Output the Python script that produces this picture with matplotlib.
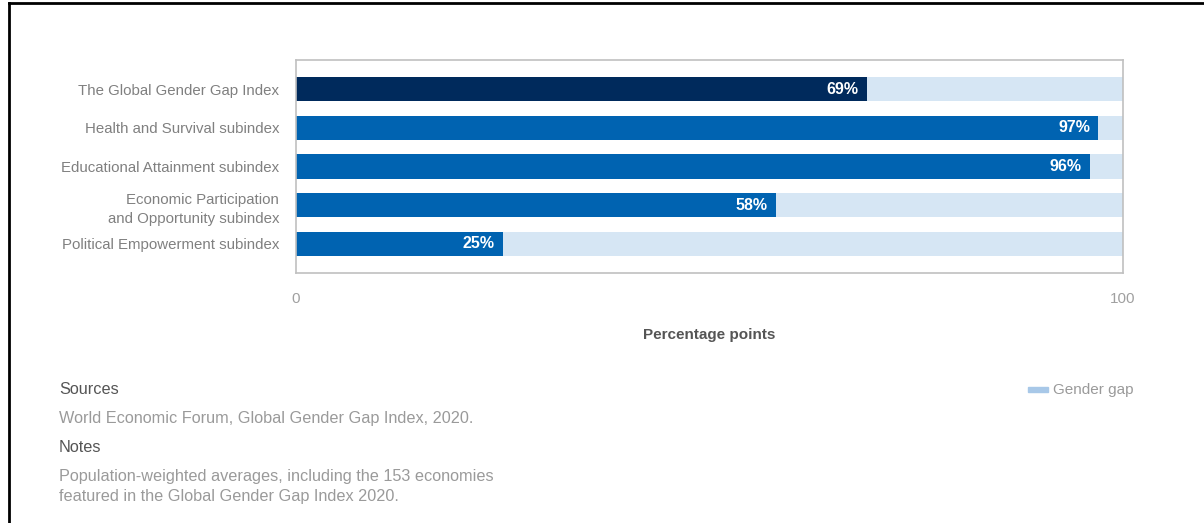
import matplotlib.pyplot as plt
from matplotlib.lines import Line2D
from matplotlib.patches import Rectangle

plt.rcParams['font.family'] = ['Liberation Sans', 'DejaVu Sans']

categories = ['The Global Gender Gap Index', 'Health and Survival subindex',
              'Educational Attainment subindex',
              'Economic Participation\nand Opportunity subindex',
              'Political Empowerment subindex']
scores = [69, 97, 96, 58, 25]
bar_colors = ['#002a5c', '#0063b1', '#0063b1', '#0063b1', '#0063b1']
total = 100

W, H = 1204, 523
fig = plt.figure(figsize=(W / 100, H / 100), dpi=100)
ax = fig.add_axes([296 / W, 1 - 273 / H, (1123 - 296) / W, (273 - 60) / H])

ypos = list(range(len(categories)))
ax.barh(ypos, [total] * len(scores), height=0.62, color='#d6e6f4')
ax.barh(ypos, scores, height=0.62, color=bar_colors)
for y, v in zip(ypos, scores):
    ax.text(v - 1.0, y, f'{v}%', ha='right', va='center', color='white',
            fontsize=11.5, fontweight='bold')

ax.set_xlim(0, 100)
ax.set_ylim(4.75, -0.75)
ax.set_yticks(ypos)
ax.set_yticklabels(categories, fontsize=10.8, color='#808080', linespacing=1.45)
ax.set_xticks([0, 100])
ax.set_xticklabels(['0', '100'], fontsize=11, color='#a0a0a0')
ax.tick_params(length=0)
ax.tick_params(axis='y', pad=12)
ax.tick_params(axis='x', pad=14)
for s in ax.spines.values():
    s.set_color('#c0c0c0')
    s.set_linewidth(1.2)

fig.text(709 / W, 1 - 335 / H, 'Percentage points', ha='center', va='center',
         fontsize=11, fontweight='bold', color='#555555')

# footnotes
fig.text(59 / W, 1 - 390 / H, 'Sources', fontsize=11.7, color='#555555', va='center')
fig.text(59 / W, 1 - 418 / H, 'World Economic Forum, Global Gender Gap Index, 2020.',
         fontsize=11.7, color='#9a9a9a', va='center')
fig.text(59 / W, 1 - 447 / H, 'Notes', fontsize=11.7, color='#555555', va='center')
fig.text(59 / W, 1 - 476 / H, 'Population-weighted averages, including the 153 economies',
         fontsize=11.7, color='#9a9a9a', va='center')
fig.text(59 / W, 1 - 497 / H, 'featured in the Global Gender Gap Index 2020.',
         fontsize=11.7, color='#9a9a9a', va='center')

# legend
fig.add_artist(Rectangle((1028 / W, 1 - 392 / H), 20 / W, 5 / H,
                         transform=fig.transFigure, color='#a8c8e8'))
fig.text(1053 / W, 1 - 390 / H, 'Gender gap', fontsize=11, color='#9a9a9a', va='center')

# outer border
fig.add_artist(Line2D([9 / W, 1], [1 - 3 / H, 1 - 3 / H], color='black', lw=2))
fig.add_artist(Line2D([9 / W, 9 / W], [0, 1 - 3 / H], color='black', lw=2))

fig.savefig('out.png')
